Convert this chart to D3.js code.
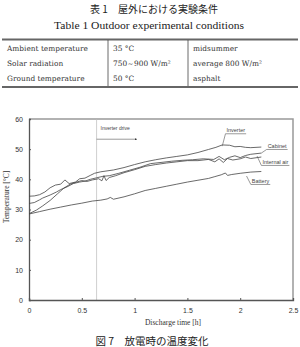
<!DOCTYPE html>
<html>
<head>
<meta charset="utf-8">
<script src="https://cdn.jsdelivr.net/npm/d3@7"></script>
<style>
  body { margin: 0; background: #fff; }
  svg  { display: block; }
</style>
</head>
<body>
<svg id="chart" width="300" height="347"></svg>
<script>
// Table rows (condition, value, note).
const conditions = [ 'Ambient temperature', 'Solar radiation', 'Ground temperature' ];
const values     = [ '35 °C', '750～900 W/m²', '50 °C' ];
const notes      = [ 'midsummer', 'average 800 W/m²', 'asphalt' ];

// Discharge time [h] and temperature [°C] for each series.
const invTime = [0,0.05,0.1,0.15,0.2,0.25,0.3,0.34,0.38,0.44,0.48,0.53,0.58,0.62,0.68,0.72,0.8,0.9,1.0,1.1,1.2,1.3,1.4,1.5,1.6,1.7,1.77,1.83,1.9,1.95,2.0,2.05,2.1,2.2];
const invTemp = [34.4,34.5,34.9,35.8,37.2,38.1,38.4,39.8,38.6,39.1,40.2,40.4,41.3,42.0,42.5,42.7,43.1,43.9,44.9,45.8,46.5,47.1,47.6,48.1,48.9,49.9,50.6,51.4,51.3,50.8,50.9,50.6,50.5,50.7];
const cabTime = [0,0.05,0.1,0.13,0.2,0.26,0.3,0.36,0.42,0.48,0.53,0.58,0.64,0.7,0.76,0.85,0.95,1.05,1.15,1.25,1.35,1.45,1.55,1.65,1.75,1.8,1.85,1.9,1.95,2.0,2.05,2.1,2.2];
const cabTemp = [32.0,32.3,33.2,33.8,34.8,35.8,36.6,37.5,38.6,39.1,39.4,40.0,40.5,41.0,41.2,42.0,43.0,44.0,45.2,45.6,46.0,46.3,46.5,46.8,46.6,47.6,46.5,47.3,47.8,47.2,47.9,48.3,48.7];
const airTime = [0,0.07,0.13,0.2,0.27,0.33,0.39,0.45,0.5,0.55,0.6,0.66,0.69,0.71,0.73,0.76,0.82,0.9,1.0,1.1,1.2,1.3,1.4,1.5,1.6,1.7,1.76,1.8,1.84,1.88,1.93,2.0,2.05,2.1,2.2];
const airTemp = [28.6,29.8,31.2,33.0,35.2,37.1,38.4,39.1,39.6,39.3,39.8,40.2,39.5,41.2,39.6,40.6,41.2,42.2,43.2,44.3,44.9,45.4,45.8,46.2,46.2,46.6,45.8,46.8,45.6,46.9,46.4,46.8,47.4,46.9,47.4];
const batTime = [0,0.1,0.2,0.3,0.4,0.5,0.6,0.68,0.74,0.77,0.8,0.9,1.0,1.1,1.2,1.3,1.4,1.5,1.6,1.7,1.76,1.82,1.86,1.88,1.92,2.0,2.1,2.2];
const batTemp = [28.5,29.3,30.1,30.8,31.5,32.1,32.8,33.1,33.5,34.0,33.4,34.2,35.2,36.3,37.0,37.7,38.4,39.1,39.7,40.3,40.9,41.5,42.1,41.3,41.6,42.0,42.4,42.6];

// Series labels: name, point on curve, label position (data units).
const labelNames = [ 'Inverter', 'Cabinet', 'Internal air', 'Battery' ];
const labelAt    = [ [1.83,51.0], [2.2,48.7], [2.16,47.7], [2.06,41.1] ];
const labelText  = [ [1.87,55.6], [2.26,50.4], [2.21,45.1], [2.11,38.8] ];

const xTicks = [ 0, 0.5, 1, 1.5, 2, 2.5 ];
const yTicks = [ 0, 10, 20, 30, 40, 50, 60 ];
const driveStart = 0.64;
const driveEnd   = 1.02;

const svg = d3.select( '#chart' );
const serif = "'Liberation Serif', 'DejaVu Serif', serif";
const wide  = "'DejaVu Serif', serif";
const sans  = "'Liberation Sans', Arial, sans-serif";
const cjk   = "'Noto Sans CJK JP', sans-serif";

// ---- Table ----
svg.append( 'text' ).attr( 'x', 154 ).attr( 'y', 13 ).attr( 'text-anchor', 'middle' )
  .style( 'font-family', cjk ).style( 'font-size', '10px' ).attr( 'fill', '#222' )
  .text( '表 1　屋外における実験条件' );
svg.append( 'text' ).attr( 'x', 149 ).attr( 'y', 29 ).attr( 'text-anchor', 'middle' )
  .attr( 'textLength', 190 ).attr( 'lengthAdjust', 'spacingAndGlyphs' )
  .style( 'font-family', serif ).style( 'font-size', '10.5px' ).attr( 'fill', '#222' )
  .text( 'Table 1  Outdoor experimental conditions' );

svg.append( 'line' ).attr( 'x1', 2 ).attr( 'x2', 298 ).attr( 'y1', 39.5 ).attr( 'y2', 39.5 )
  .attr( 'stroke', '#666' ).attr( 'stroke-width', 1.8 );
svg.append( 'line' ).attr( 'x1', 2 ).attr( 'x2', 298 ).attr( 'y1', 87 ).attr( 'y2', 87 )
  .attr( 'stroke', '#666' ).attr( 'stroke-width', 1.8 );
[ 108, 188 ].forEach( x => svg.append( 'line' ).attr( 'x1', x ).attr( 'x2', x )
  .attr( 'y1', 40 ).attr( 'y2', 86 ).attr( 'stroke', '#444' ).attr( 'stroke-width', 0.8 ) );

const rowY = d3.scalePoint( ).domain( d3.range( conditions.length ) ).range( [ 51, 81 ] );
[ [ conditions, 7 ], [ values, 113 ], [ notes, 193 ] ].forEach( ( [ col, x ] ) => {
  svg.append( 'g' ).selectAll( 'text' ).data( col ).join( 'text' )
    .attr( 'x', x ).attr( 'y', ( d, i ) => rowY( i ) )
    .style( 'font-family', wide ).style( 'font-size', '7.4px' ).attr( 'fill', '#333' )
    .text( d => d );
} );

// ---- Chart ----
const x = d3.scaleLinear( ).domain( [ 0, 2.5 ] ).range( [ 29, 293 ] );
const y = d3.scaleLinear( ).domain( [ 0, 60 ] ).range( [ 300, 119 ] );

// frame
svg.append( 'path' )
  .attr( 'd', `M${x(0)},${y(60)}H${x(2.5)}V${y(0)}` )
  .attr( 'fill', 'none' ).attr( 'stroke', '#999' ).attr( 'stroke-width', 1.5 );

// inverter drive marker
svg.append( 'line' ).attr( 'x1', x( driveStart ) ).attr( 'x2', x( driveStart ) )
  .attr( 'y1', y( 60 ) ).attr( 'y2', y( 0 ) )
  .attr( 'stroke', '#bbb' ).attr( 'stroke-width', 0.7 );

const xAxis = d3.axisBottom( x ).tickValues( xTicks ).tickSize( -2 ).tickPadding( 8 )
  .tickFormat( d => d );
const yAxis = d3.axisLeft( y ).tickValues( yTicks ).tickSize( -2 ).tickPadding( 6 );

const gx = svg.append( 'g' ).attr( 'transform', `translate(0,${y(0)})` ).call( xAxis );
const gy = svg.append( 'g' ).attr( 'transform', `translate(${x(0)},0)` ).call( yAxis );
[ gx, gy ].forEach( g => {
  g.select( '.domain' ).attr( 'stroke', '#555' ).attr( 'stroke-width', 1.3 );
  g.selectAll( '.tick line' ).attr( 'stroke', '#555' );
  g.selectAll( '.tick text' ).style( 'font-family', sans ).style( 'font-size', '7px' ).attr( 'fill', '#333' );
} );

svg.append( 'text' ).attr( 'x', 173 ).attr( 'y', 325 ).attr( 'text-anchor', 'middle' )
  .style( 'font-family', serif ).style( 'font-size', '7.5px' ).attr( 'fill', '#333' )
  .text( 'Discharge time [h]' );
svg.append( 'text' ).attr( 'transform', 'translate(9,197) rotate(-90)' ).attr( 'text-anchor', 'middle' )
  .style( 'font-family', serif ).style( 'font-size', '7.5px' ).attr( 'fill', '#333' )
  .text( 'Temperature [°C]' );

// lines
const line = d3.line( ).x( d => x( d[0] ) ).y( d => y( d[1] ) );
[ [ invTime, invTemp ], [ cabTime, cabTemp ], [ airTime, airTemp ], [ batTime, batTemp ] ]
  .forEach( ( [ t, v ] ) => {
    svg.append( 'path' ).datum( d3.zip( t, v ) )
      .attr( 'd', line ).attr( 'fill', 'none' )
      .attr( 'stroke', '#444' ).attr( 'stroke-width', 0.8 );
  } );

// inverter drive annotation
svg.append( 'defs' ).append( 'marker' ).attr( 'id', 'arr' )
  .attr( 'viewBox', '0 0 6 6' ).attr( 'refX', 5 ).attr( 'refY', 3 )
  .attr( 'markerWidth', 4 ).attr( 'markerHeight', 4 ).attr( 'orient', 'auto' )
  .append( 'path' ).attr( 'd', 'M0,0L6,3L0,6Z' ).attr( 'fill', '#333' );
svg.append( 'line' ).attr( 'x1', x( driveStart ) ).attr( 'x2', x( driveEnd ) )
  .attr( 'y1', y( 53.3 ) ).attr( 'y2', y( 53.3 ) )
  .attr( 'stroke', '#555' ).attr( 'stroke-width', 0.6 ).attr( 'marker-end', 'url(#arr)' );
svg.append( 'text' ).attr( 'x', x( driveStart ) + 4 ).attr( 'y', y( 56.4 ) )
  .style( 'font-family', sans ).style( 'font-size', '5px' ).attr( 'fill', '#444' )
  .text( 'Inverter drive' );

// series labels with leader lines
labelNames.forEach( ( name, i ) => {
  const tx = x( labelText[i][0] ), ty = y( labelText[i][1] );
  const t = svg.append( 'text' ).attr( 'x', tx ).attr( 'y', ty )
    .style( 'font-family', sans ).style( 'font-size', '5.5px' ).attr( 'fill', '#444' )
    .text( name );
  const w = t.node( ).getComputedTextLength( );
  svg.append( 'path' )
    .attr( 'd', `M${x(labelAt[i][0])},${y(labelAt[i][1])}L${tx - 1},${ty + 1.5}H${tx + w + 1}` )
    .attr( 'fill', 'none' ).attr( 'stroke', '#555' ).attr( 'stroke-width', 0.6 );
} );

// caption
svg.append( 'text' ).attr( 'x', 152 ).attr( 'y', 345 ).attr( 'text-anchor', 'middle' )
  .style( 'font-family', cjk ).style( 'font-size', '10.5px' ).attr( 'fill', '#222' )
  .text( '図 7　放電時の温度変化' );
</script>
</body>
</html>
